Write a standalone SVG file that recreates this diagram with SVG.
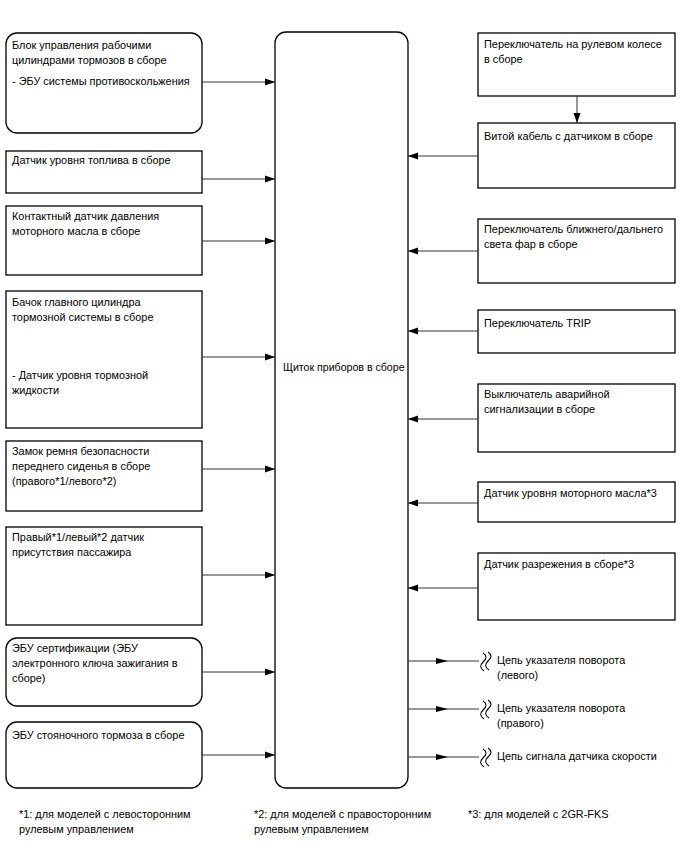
<svg xmlns="http://www.w3.org/2000/svg" width="688" height="852" viewBox="0 0 688 852">
<style>
text{font-family:"Liberation Sans",Arial,sans-serif;font-size:10.9px;fill:#000}
.b{fill:#fff;stroke:#000;stroke-width:1.3}
.c{fill:none;stroke:#333;stroke-width:1}
.w{fill:none;stroke:#000;stroke-width:1.1}
</style>
<defs>
<marker id="a" viewBox="0 0 10 8" refX="10" refY="4" markerWidth="10" markerHeight="8" markerUnits="userSpaceOnUse" orient="auto"><path d="M0,0.5 L10,4 L0,7.5 z" fill="#000"/></marker>
<marker id="m" viewBox="0 0 12 8" refX="6" refY="4" markerWidth="12" markerHeight="8" markerUnits="userSpaceOnUse" orient="auto"><path d="M0,1 L12,4 L0,7 z" fill="#000"/></marker>
</defs>
<rect width="688" height="852" fill="#fff"/>
<g id="center"><rect class="b" x="275" y="32" width="133" height="756" rx="11"/><text x="283" y="371" style="font-size:10.6px">Щиток приборов в сборе</text></g>
<g id="L1"><rect class="b" x="6" y="33" width="196" height="100" rx="11"/><text x="12" y="49">Блок управления рабочими</text><text x="12" y="64">цилиндрами тормозов в сборе</text><text x="12" y="85">- ЭБУ системы противоскольжения</text></g>
<g id="L2"><rect class="b" x="6" y="151" width="196" height="42"/><text x="12" y="164">Датчик уровня топлива в сборе</text></g>
<g id="L3"><rect class="b" x="6" y="206" width="196" height="69"/><text x="12" y="220">Контактный датчик давления</text><text x="12" y="235">моторного масла в сборе</text></g>
<g id="L4"><rect class="b" x="6" y="291" width="196" height="137"/><text x="12" y="306">Бачок главного цилиндра</text><text x="12" y="321">тормозной системы в сборе</text><text x="12" y="379">- Датчик уровня тормозной</text><text x="12" y="394">жидкости</text></g>
<g id="L5"><rect class="b" x="6" y="441" width="196" height="70"/><text x="12" y="455">Замок ремня безопасности</text><text x="12" y="470">переднего сиденья в сборе</text><text x="12" y="485">(правого*1/левого*2)</text></g>
<g id="L6"><rect class="b" x="6" y="527" width="196" height="98"/><text x="12" y="541">Правый*1/левый*2 датчик</text><text x="12" y="556">присутствия пассажира</text></g>
<g id="L7"><rect class="b" x="6" y="638" width="196" height="68" rx="11"/><text x="12" y="652">ЭБУ сертификации (ЭБУ</text><text x="12" y="667">электронного ключа зажигания в</text><text x="12" y="682">сборе)</text></g>
<g id="L8"><rect class="b" x="6" y="722" width="196" height="66" rx="11"/><text x="12" y="739">ЭБУ стояночного тормоза в сборе</text></g>
<g id="R1"><rect class="b" x="478" y="33" width="197" height="63"/><text x="484" y="48">Переключатель на рулевом колесе</text><text x="484" y="63">в сборе</text></g>
<g id="R2"><rect class="b" x="478" y="123" width="197" height="65"/><text x="484" y="140">Витой кабель с датчиком в сборе</text></g>
<g id="R3"><rect class="b" x="478" y="219" width="197" height="64"/><text x="484" y="233">Переключатель ближнего/дальнего</text><text x="484" y="248">света фар в сборе</text></g>
<g id="R4"><rect class="b" x="478" y="310" width="197" height="43"/><text x="484" y="327">Переключатель TRIP</text></g>
<g id="R5"><rect class="b" x="478" y="384" width="197" height="68"/><text x="484" y="398">Выключатель аварийной</text><text x="484" y="413">сигнализации в сборе</text></g>
<g id="R6"><rect class="b" x="478" y="482" width="197" height="40"/><text x="484" y="497">Датчик уровня моторного масла*3</text></g>
<g id="R7"><rect class="b" x="478" y="553" width="197" height="67"/><text x="484" y="568">Датчик разрежения в сборе*3</text></g>
<g id="O1"><path class="w" d="M483,653 q6,4 0,9 q-5,5 1,9 M488,652 q6,4 0,9 q-5,5 1,9"/><text x="497" y="664">Цепь указателя поворота</text><text x="497" y="679">(левого)</text></g>
<g id="O2"><path class="w" d="M483,701 q6,4 0,9 q-5,5 1,9 M488,700 q6,4 0,9 q-5,5 1,9"/><text x="497" y="712">Цепь указателя поворота</text><text x="497" y="727">(правого)</text></g>
<g id="O3"><path class="w" d="M483,749 q6,4 0,9 q-5,5 1,9 M488,748 q6,4 0,9 q-5,5 1,9"/><text x="497" y="760">Цепь сигнала датчика скорости</text></g>
<g id="connectors">
<path class="c" marker-end="url(#a)" d="M202,82 H275"/>
<path class="c" marker-end="url(#a)" d="M202,179 H275"/>
<path class="c" marker-end="url(#a)" d="M202,241 H275"/>
<path class="c" marker-end="url(#a)" d="M202,357 H275"/>
<path class="c" marker-end="url(#a)" d="M202,469 H275"/>
<path class="c" marker-end="url(#a)" d="M202,575 H275"/>
<path class="c" marker-end="url(#a)" d="M202,672 H275"/>
<path class="c" marker-end="url(#a)" d="M202,755 H275"/>
<path class="c" marker-end="url(#a)" d="M577,96 V123"/>
<path class="c" marker-end="url(#a)" d="M478,156 H408"/>
<path class="c" marker-end="url(#a)" d="M478,251 H408"/>
<path class="c" marker-end="url(#a)" d="M478,331 H408"/>
<path class="c" marker-end="url(#a)" d="M478,419 H408"/>
<path class="c" marker-end="url(#a)" d="M478,503 H408"/>
<path class="c" marker-end="url(#a)" d="M478,588 H408"/>
<path class="c" marker-mid="url(#m)" d="M408,661 H442 H479"/>
<path class="c" marker-mid="url(#m)" d="M408,709 H442 H479"/>
<path class="c" marker-mid="url(#m)" d="M408,757 H442 H479"/>
</g>
<g id="notes"><text x="19" y="818">*1: для моделей с левосторонним</text><text x="19" y="833">рулевым управлением</text><text x="254" y="818">*2: для моделей с правосторонним</text><text x="254" y="833">рулевым управлением</text><text x="468" y="818">*3: для моделей с 2GR-FKS</text></g>
</svg>
